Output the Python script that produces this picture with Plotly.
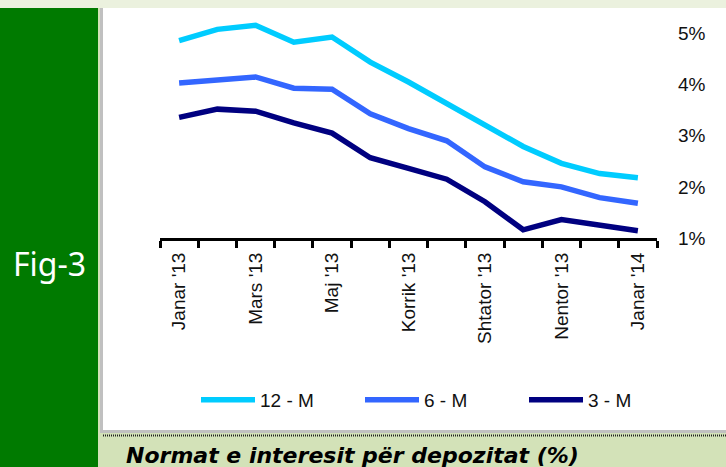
import plotly.graph_objects as go

months = ["Janar '13", "Shkurt '13", "Mars '13", "Prill '13", "Maj '13", "Qershor '13",
          "Korrik '13", "Gusht '13", "Shtator '13", "Tetor '13", "Nentor '13", "Dhjetor '13",
          "Janar '14"]
rate_12m = [4.86, 5.08, 5.16, 4.83, 4.93, 4.44, 4.05, 3.62, 3.20, 2.79, 2.46, 2.26, 2.18]
rate_6m = [4.03, 4.08, 4.15, 3.93, 3.91, 3.43, 3.14, 2.90, 2.39, 2.10, 2.00, 1.79, 1.68]
rate_3m = [3.36, 3.52, 3.48, 3.25, 3.05, 2.57, 2.36, 2.15, 1.71, 1.16, 1.36, 1.25, 1.14]
series_names = ["12 - M", "6 - M", "3 - M"]
series_colors = ["#00CCFF", "#3366FF", "#000080"]
y_ticks = [1, 2, 3, 4, 5]
y_ticktext = ["1%", "2%", "3%", "4%", "5%"]

W, H = 726, 467
L, R, T, B = 160, 69, 13, 229
PW, PH = W - L - R, H - T - B


def px(x):
    return (x - L) / PW


def py(y):
    return (H - B - y) / PH


fig = go.Figure()
for name, vals, col in zip(series_names, [rate_12m, rate_6m, rate_3m], series_colors):
    fig.add_trace(go.Scatter(x=months, y=vals, name=name, mode="lines",
                             line=dict(color=col, width=5.5)))

shapes = [
    dict(type="rect", x0=px(0), x1=px(98), y0=py(8), y1=py(467), fillcolor="#007A00", line_width=0),
    dict(type="rect", x0=px(98), x1=px(726), y0=py(8), y1=py(467), fillcolor="#D3E2B8", line_width=0),
    dict(type="rect", x0=px(100), x1=px(726), y0=py(8), y1=py(433), fillcolor="#C0C0C0", line_width=0),
    dict(type="rect", x0=px(103), x1=px(726), y0=py(8), y1=py(430), fillcolor="#FFFFFF", line_width=0),
    dict(type="line", x0=px(103), x1=px(726), y0=py(435.5), y1=py(435.5),
         line=dict(color="#222222", width=2, dash="1px,1px")),
]
for s in shapes:
    s.update(xref="paper", yref="paper", layer="below")

fig.update_layout(
    width=W, height=H,
    margin=dict(l=L, r=R, t=T, b=B, autoexpand=False),
    paper_bgcolor="#EBF1DE",
    plot_bgcolor="rgba(0,0,0,0)",
    shapes=shapes,
    font=dict(family="Liberation Sans, Arial", size=19, color="#111111"),
    showlegend=True,
    legend=dict(orientation="h", x=px(196), xanchor="left", y=py(400), yanchor="middle",
                itemwidth=54, entrywidth=95, bgcolor="rgba(0,0,0,0)",
                font=dict(size=19), traceorder="normal"),
    xaxis=dict(type="category", range=[-0.5, len(months) - 0.5], tickson="boundaries", ticklabelstep=2,
               ticks="outside", ticklen=7, tickwidth=2.5, tickcolor="#000000",
               showline=True, linewidth=3, linecolor="#000000", showgrid=False,
               tickangle=-90, tickfont=dict(size=19), ticklabelstandoff=4, fixedrange=True),
    yaxis=dict(side="right", range=[1, 5.4], tickvals=y_ticks, ticktext=y_ticktext,
               showline=False, showgrid=False, zeroline=False, ticks="",
               ticklabelstandoff=20, tickfont=dict(size=19), fixedrange=True),
    annotations=[
        dict(text="Fig-3", xref="paper", yref="paper", x=px(49), y=py(263),
             xanchor="center", yanchor="middle", showarrow=False,
             font=dict(family="Noto Sans", size=32, color="#FFFFFF")),
        dict(text="Normat e interesit për depozitat (%)", xref="paper", yref="paper",
             x=px(124), y=py(455), xanchor="left", yanchor="middle", showarrow=False,
             font=dict(family="DejaVu Sans", size=22, color="#000000", weight="bold", style="italic")),
    ],
)

fig.write_html("out.html", config={"displayModeBar": False},
               post_script="document.body.style.margin='0';")
